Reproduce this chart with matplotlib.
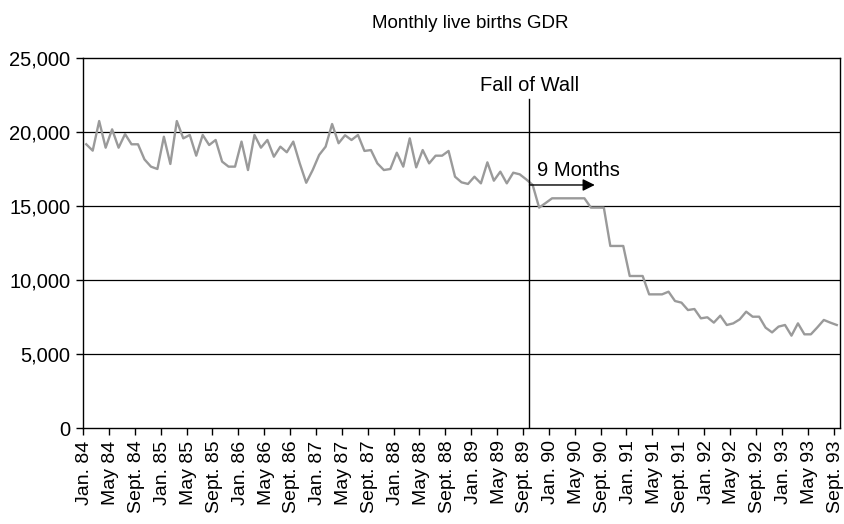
import numpy as np
import matplotlib
matplotlib.use('Agg')
import matplotlib.pyplot as plt
from matplotlib.ticker import FuncFormatter


# Daten: monatliche Lebendgeburten DDR, Jan. 84 bis Sept. 93
geburten = [
    19170, 18740, 20740, 18940, 20180, 18940, 19860, 19170, 19170, 18150, 17660, 17500,   # 1984
    19680, 17840, 20740, 19570, 19800, 18400, 19800, 19120, 19460, 18000, 17660, 17660,   # 1985
    19350, 17430, 19800, 18940, 19460, 18330, 19010, 18630, 19350, 17880, 16570, 17430,   # 1986
    18450, 19010, 20540, 19240, 19780, 19460, 19800, 18720, 18780, 17880, 17430, 17500,   # 1987
    18600, 17660, 19570, 17610, 18780, 17880, 18400, 18400, 18720, 16980, 16600, 16490,   # 1988
    16980, 16530, 17950, 16710, 17320, 16530, 17250, 17140, 16800, 16420, 14890, 15200,   # 1989
    15520, 15520, 15520, 15520, 15520, 15520, 14890, 14890, 14890, 12300, 12300, 12300,   # 1990
    10270, 10270, 10270, 9030, 9030, 9030, 9210, 8580, 8470, 7970, 8040, 7410,            # 1991
    7480, 7120, 7590, 6960, 7070, 7340, 7860, 7520, 7520, 6780, 6460, 6850,               # 1992
    6960, 6240, 7070, 6330, 6330, 6800, 7300, 7120, 6960,                                 # 1993
]

monate = ['Jan.', 'May', 'Sept.']
jahre = ['84', '85', '86', '87', '88', '89', '90', '91', '92', '93']
tick_labels = ['%s %s' % (m, j) for j in jahre for m in monate]

y_ticks = [0, 5000, 10000, 15000, 20000, 25000]

titel = 'Monthly live births GDR'
mauer_text = 'Fall of Wall'
pfeil_text = '9 Months'
mauerfall = 69          # Grenze Sept./Okt. 89
pfeil_ende = 79.1

# Ploteinstellungen
plt.rcParams['font.family'] = ['Liberation Sans', 'DejaVu Sans']
plt.rcParams['font.size'] = 14.5
plt.rcParams['axes.linewidth'] = 1.0

fig = plt.figure(figsize=(8.44, 5.24), dpi=100)
ax = fig.add_axes([83/844, 96/524, 757/844, 370/524])

n = len(geburten)
x = np.arange(n) + 0.5

# Gitterlinien
for yv in y_ticks[1:-1]:
    ax.axhline(yv, color='black', lw=0.9, zorder=1)

ax.plot(x, geburten, color='#9a9a9a', lw=1.7, zorder=3)

# Fall der Mauer
ax.plot([mauerfall, mauerfall], [0, 22200], color='black', lw=1.0, zorder=4)
ax.text(mauerfall, 23150, mauer_text, ha='center', va='center', fontsize=14.5)
ax.annotate('', xy=(pfeil_ende, 16420), xytext=(mauerfall, 16420),
            arrowprops=dict(arrowstyle='-|>', color='black', lw=1.0, mutation_scale=18,
                            shrinkA=0, shrinkB=0), zorder=5)
ax.text(mauerfall + 1.2, 17400, pfeil_text, ha='left', va='center', fontsize=14.5)

ax.set_xlim(0, n)
ax.set_ylim(0, 25000)

# x-Achse: Striche an den Kategoriegrenzen, Beschriftung nahe der Kategoriemitte
ax.set_xticks(np.arange(0, n, 4))
ax.set_xticklabels([])
ax.set_xticks(np.arange(0, n, 4) + 0.3, minor=True)
ax.set_xticklabels(tick_labels, minor=True, rotation=90, fontsize=14)
ax.tick_params(axis='x', which='major', direction='out', length=5, width=1.0)
ax.tick_params(axis='x', which='minor', length=0, pad=9)

ax.set_yticks(y_ticks)
ax.yaxis.set_major_formatter(FuncFormatter(lambda v, p: '{:,.0f}'.format(v)))
ax.tick_params(axis='y', direction='out', length=5, width=1.0, pad=4)

for s in ax.spines.values():
    s.set_color('black')

fig.text(470/844, 1 - 23/524, titel, ha='center', va='center', fontsize=13.5)

fig.savefig('out.png', dpi=100)
